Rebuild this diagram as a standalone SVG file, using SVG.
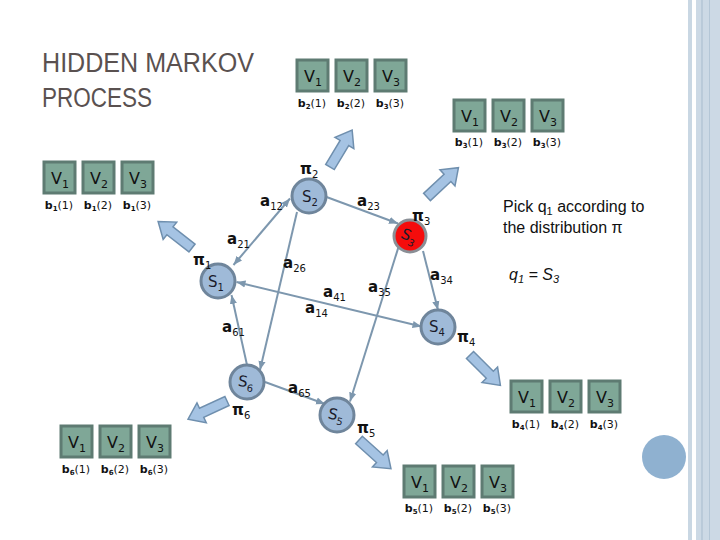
<svg xmlns="http://www.w3.org/2000/svg" xmlns:xlink="http://www.w3.org/1999/xlink" width="720" height="540" viewBox="0 0 720 540">
<style>
.title{font-family:"Liberation Sans",Arial,sans-serif;font-size:27px;fill:#5a5150}
.node{fill:#9fbad8;stroke:#6f859b;stroke-width:3}
.nodeR{fill:#f50c0c;stroke:#8a8f96;stroke-width:3}
.sl{font-family:"DejaVu Sans",Verdana,sans-serif;font-size:15px;fill:#1a1a2a;text-anchor:middle}
.edge{stroke:#7d97ae;stroke-width:2;fill:none}
.el{font-family:"DejaVu Sans",Verdana,sans-serif;font-size:15px;font-weight:bold;fill:#111}
.pi{font-family:"DejaVu Sans",Verdana,sans-serif;font-size:15px;font-weight:bold;fill:#111}
.vb{fill:#7fa797;stroke:#5e7b72;stroke-width:3}
.vt{font-family:"DejaVu Sans",Verdana,sans-serif;font-size:16px;fill:#111;text-anchor:middle}
.bt{font-family:"DejaVu Sans",Verdana,sans-serif;font-size:11px;fill:#111;text-anchor:middle}
.blk{fill:#a5c3e3;stroke:#6f8fae;stroke-width:1.5}
.note{font-family:"Liberation Sans",Arial,sans-serif;font-size:16px;fill:#111}
</style>
<defs>
<marker id="ah" viewBox="0 0 10 10" refX="10" refY="5" markerWidth="9" markerHeight="9" markerUnits="userSpaceOnUse" orient="auto-start-reverse">
<path d="M0,1 L10,5 L0,9 Z" fill="#7d97ae"/>
</marker>
<path id="blkarrow" class="blk" d="M0,-5 L28,-5 L28,-11 L43,0 L28,11 L28,5 L0,5 Z"/>
<g id="vboxes">
<rect class="vb" x="0" y="0" width="31" height="31"/>
<rect class="vb" x="39" y="0" width="31" height="31"/>
<rect class="vb" x="78" y="0" width="31" height="31"/>
<text class="vt" x="16" y="22">V<tspan dy="4" font-size="11">1</tspan></text>
<text class="vt" x="55" y="22">V<tspan dy="4" font-size="11">2</tspan></text>
<text class="vt" x="94" y="22">V<tspan dy="4" font-size="11">3</tspan></text>
</g>
</defs>

<!-- right edge decoration -->
<g id="decor">
<rect x="688" y="0" width="4" height="540" fill="#c9d7e3"/>
<rect x="696" y="0" width="24" height="540" fill="#ccd9e5"/>
<line x1="702" y1="0" x2="702" y2="540" stroke="#a7bbcd" stroke-width="1"/>
<line x1="709.5" y1="0" x2="709.5" y2="540" stroke="#b4c6d6" stroke-width="1"/>
<circle cx="664" cy="457" r="22" fill="#8fb1d0"/>
</g>

<g id="title">
<text class="title" x="42" y="72" textLength="212" lengthAdjust="spacingAndGlyphs">HIDDEN MARKOV</text>
<text class="title" x="42" y="107" textLength="110" lengthAdjust="spacingAndGlyphs">PROCESS</text>
</g>

<!-- block arrows -->
<g id="emissions">
<use xlink:href="#blkarrow" transform="translate(330,167) rotate(-59)"/>
<use xlink:href="#blkarrow" transform="translate(427,197) rotate(-43)"/>
<use xlink:href="#blkarrow" transform="translate(192,248) rotate(-142)"/>
<use xlink:href="#blkarrow" transform="translate(470,355) rotate(45)"/>
<use xlink:href="#blkarrow" transform="translate(359,440) rotate(42)"/>
<use xlink:href="#blkarrow" transform="translate(227,401) rotate(155)"/>
</g>

<!-- connectors -->
<g id="connectors">
<line class="edge" x1="290" y1="198.5" x2="233.5" y2="265" marker-start="url(#ah)" marker-end="url(#ah)"/>
<line class="edge" x1="326.5" y1="197" x2="398" y2="223.5" marker-end="url(#ah)"/>
<line class="edge" x1="297" y1="212" x2="260" y2="370" marker-end="url(#ah)"/>
<line class="edge" x1="423" y1="251" x2="438" y2="310" marker-end="url(#ah)"/>
<line class="edge" x1="398.5" y1="247" x2="350" y2="401.5" marker-end="url(#ah)"/>
<line class="edge" x1="236.5" y1="282" x2="421.5" y2="326.5" marker-start="url(#ah)" marker-end="url(#ah)"/>
<line class="edge" x1="247" y1="365" x2="231.5" y2="295" marker-end="url(#ah)"/>
<line class="edge" x1="265" y1="382" x2="325" y2="404" marker-end="url(#ah)"/>
</g>

<!-- edge labels -->
<g id="edge-labels">
<text class="el" x="260" y="206">a<tspan dy="4" font-size="10" font-weight="normal">12</tspan></text>
<text class="el" x="227" y="244">a<tspan dy="4" font-size="10" font-weight="normal">21</tspan></text>
<text class="el" x="357" y="206">a<tspan dy="4" font-size="10" font-weight="normal">23</tspan></text>
<text class="el" x="283" y="268">a<tspan dy="4" font-size="10" font-weight="normal">26</tspan></text>
<text class="el" x="323" y="297">a<tspan dy="4" font-size="10" font-weight="normal">41</tspan></text>
<text class="el" x="305" y="313">a<tspan dy="4" font-size="10" font-weight="normal">14</tspan></text>
<text class="el" x="368" y="292">a<tspan dy="4" font-size="10" font-weight="normal">35</tspan></text>
<text class="el" x="430" y="280">a<tspan dy="4" font-size="10" font-weight="normal">34</tspan></text>
<text class="el" x="222" y="332">a<tspan dy="4" font-size="10" font-weight="normal">61</tspan></text>
<text class="el" x="288" y="393">a<tspan dy="4" font-size="10" font-weight="normal">65</tspan></text>
</g>

<!-- nodes -->
<g id="S1"><circle class="node" cx="218" cy="281" r="17"/><text class="sl" x="216" y="287">S<tspan dy="4" font-size="10">1</tspan></text><text class="pi" x="193" y="265">π<tspan dy="4" font-size="10" font-weight="normal">1</tspan></text></g>
<g id="S2"><circle class="node" cx="309" cy="196" r="17"/><text class="sl" x="310" y="202">S<tspan dy="4" font-size="10">2</tspan></text><text class="pi" x="300" y="174">π<tspan dy="4" font-size="10" font-weight="normal">2</tspan></text></g>
<g id="S3"><circle class="nodeR" cx="410" cy="236" r="16"/><text class="sl" x="0" y="5" transform="translate(409,236) rotate(25)">S<tspan dy="4" font-size="10">3</tspan></text><text class="pi" x="412" y="221">π<tspan dy="4" font-size="10" font-weight="normal">3</tspan></text></g>
<g id="S4"><circle class="node" cx="438" cy="327" r="17"/><text class="sl" x="437" y="332">S<tspan dy="4" font-size="10">4</tspan></text><text class="pi" x="457" y="342">π<tspan dy="4" font-size="10" font-weight="normal">4</tspan></text></g>
<g id="S5"><circle class="node" cx="337" cy="415" r="17"/><text class="sl" x="0" y="5" transform="translate(336,415) rotate(12)">S<tspan dy="4" font-size="10">5</tspan></text><text class="pi" x="357" y="433">π<tspan dy="4" font-size="10" font-weight="normal">5</tspan></text></g>
<g id="S6"><circle class="node" cx="247" cy="382" r="17"/><text class="sl" x="0" y="5" transform="translate(246,382) rotate(8)">S<tspan dy="4" font-size="10">6</tspan></text><text class="pi" x="232" y="415">π<tspan dy="4" font-size="10" font-weight="normal">6</tspan></text></g>

<!-- observation boxes -->
<g id="b2"><use xlink:href="#vboxes" x="297" y="60"/>
<text class="bt" x="312" y="107"><tspan font-weight="bold">b</tspan><tspan dy="2" font-size="7" font-weight="bold">2</tspan><tspan dy="-2">(1)</tspan></text>
<text class="bt" x="351" y="107"><tspan font-weight="bold">b</tspan><tspan dy="2" font-size="7" font-weight="bold">2</tspan><tspan dy="-2">(2)</tspan></text>
<text class="bt" x="390" y="107"><tspan font-weight="bold">b</tspan><tspan dy="2" font-size="7" font-weight="bold">3</tspan><tspan dy="-2">(3)</tspan></text>
</g>
<g id="b3"><use xlink:href="#vboxes" x="454" y="100"/>
<text class="bt" x="469" y="146"><tspan font-weight="bold">b</tspan><tspan dy="2" font-size="7" font-weight="bold">3</tspan><tspan dy="-2">(1)</tspan></text>
<text class="bt" x="508" y="146"><tspan font-weight="bold">b</tspan><tspan dy="2" font-size="7" font-weight="bold">3</tspan><tspan dy="-2">(2)</tspan></text>
<text class="bt" x="547" y="146"><tspan font-weight="bold">b</tspan><tspan dy="2" font-size="7" font-weight="bold">3</tspan><tspan dy="-2">(3)</tspan></text>
</g>
<g id="b1"><use xlink:href="#vboxes" x="44" y="162"/>
<text class="bt" x="59" y="209"><tspan font-weight="bold">b</tspan><tspan dy="2" font-size="7" font-weight="bold">1</tspan><tspan dy="-2">(1)</tspan></text>
<text class="bt" x="98" y="209"><tspan font-weight="bold">b</tspan><tspan dy="2" font-size="7" font-weight="bold">1</tspan><tspan dy="-2">(2)</tspan></text>
<text class="bt" x="137" y="209"><tspan font-weight="bold">b</tspan><tspan dy="2" font-size="7" font-weight="bold">1</tspan><tspan dy="-2">(3)</tspan></text>
</g>
<g id="b6"><use xlink:href="#vboxes" x="61" y="426"/>
<text class="bt" x="76" y="473"><tspan font-weight="bold">b</tspan><tspan dy="2" font-size="7" font-weight="bold">6</tspan><tspan dy="-2">(1)</tspan></text>
<text class="bt" x="115" y="473"><tspan font-weight="bold">b</tspan><tspan dy="2" font-size="7" font-weight="bold">6</tspan><tspan dy="-2">(2)</tspan></text>
<text class="bt" x="154" y="473"><tspan font-weight="bold">b</tspan><tspan dy="2" font-size="7" font-weight="bold">6</tspan><tspan dy="-2">(3)</tspan></text>
</g>
<g id="b4"><use xlink:href="#vboxes" x="511" y="381"/>
<text class="bt" x="526" y="428"><tspan font-weight="bold">b</tspan><tspan dy="2" font-size="7" font-weight="bold">4</tspan><tspan dy="-2">(1)</tspan></text>
<text class="bt" x="565" y="428"><tspan font-weight="bold">b</tspan><tspan dy="2" font-size="7" font-weight="bold">4</tspan><tspan dy="-2">(2)</tspan></text>
<text class="bt" x="604" y="428"><tspan font-weight="bold">b</tspan><tspan dy="2" font-size="7" font-weight="bold">4</tspan><tspan dy="-2">(3)</tspan></text>
</g>
<g id="b5"><use xlink:href="#vboxes" x="404" y="466"/>
<text class="bt" x="419" y="512"><tspan font-weight="bold">b</tspan><tspan dy="2" font-size="7" font-weight="bold">5</tspan><tspan dy="-2">(1)</tspan></text>
<text class="bt" x="458" y="512"><tspan font-weight="bold">b</tspan><tspan dy="2" font-size="7" font-weight="bold">5</tspan><tspan dy="-2">(2)</tspan></text>
<text class="bt" x="497" y="512"><tspan font-weight="bold">b</tspan><tspan dy="2" font-size="7" font-weight="bold">5</tspan><tspan dy="-2">(3)</tspan></text>
</g>

<g id="note">
<text class="note" x="503" y="212">Pick q<tspan dy="3" font-size="11">1</tspan><tspan dy="-3"> according to</tspan></text>
<text class="note" x="503" y="233">the distribution π</text>
<text class="note" x="509" y="280" font-style="italic">q<tspan dy="3" font-size="11">1</tspan><tspan dy="-3"> = S</tspan><tspan dy="3" font-size="11">3</tspan></text>
</g>
</svg>
